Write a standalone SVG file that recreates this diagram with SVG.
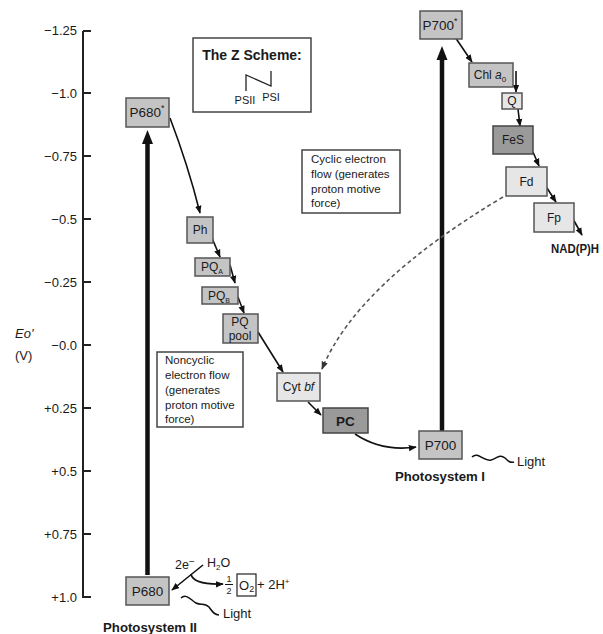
<svg xmlns="http://www.w3.org/2000/svg" width="603" height="634" viewBox="0 0 603 634">
<style>
text{font-family:"Liberation Sans",Arial,sans-serif;fill:#1a1a1a}
.tick{font-size:13px;text-anchor:end}
.lbl{font-size:12px;text-anchor:middle}
.big{font-size:13.5px;text-anchor:middle}
.note{font-size:11.5px}
.bold{font-weight:bold}
.mid{fill:#c4c4c4;stroke:#555;stroke-width:1.5}
.dark{fill:#9a9a9a;stroke:#444;stroke-width:1.5}
.light{fill:#e6e6e6;stroke:#555;stroke-width:1.5}
.box{fill:#fff;stroke:#444;stroke-width:1.5}
.ln{fill:none;stroke:#111;stroke-width:1.6;marker-end:url(#ah)}
.dash{fill:none;stroke:#555;stroke-width:1.6;stroke-dasharray:4 3;marker-end:url(#ahg)}
.thick{stroke:#111;stroke-width:4.5}
</style>
<defs>
<marker id="ah" viewBox="0 0 10 10" refX="9" refY="5" markerWidth="8" markerHeight="8" markerUnits="userSpaceOnUse" orient="auto"><path d="M0,1 L10,5 L0,9 z" fill="#111"/></marker>
<marker id="ahg" viewBox="0 0 10 10" refX="9" refY="5" markerWidth="8" markerHeight="8" markerUnits="userSpaceOnUse" orient="auto"><path d="M0,1 L10,5 L0,9 z" fill="#333"/></marker>
</defs>
<rect width="603" height="634" fill="#fff"/>

<g id="axis">
<path d="M83,31 L83,597 L91,597" fill="none" stroke="#222" stroke-width="2"/>
<g stroke="#222" stroke-width="2">
<line x1="83" y1="31" x2="91" y2="31"/><line x1="83" y1="93" x2="91" y2="93"/><line x1="83" y1="156" x2="91" y2="156"/><line x1="83" y1="219" x2="91" y2="219"/><line x1="83" y1="282" x2="91" y2="282"/><line x1="83" y1="345" x2="91" y2="345"/><line x1="83" y1="408" x2="91" y2="408"/><line x1="83" y1="471" x2="91" y2="471"/><line x1="83" y1="534" x2="91" y2="534"/>
</g>
<text class="tick" x="77" y="35">−1.25</text>
<text class="tick" x="77" y="98">−1.0</text>
<text class="tick" x="77" y="161">−0.75</text>
<text class="tick" x="77" y="224">−0.5</text>
<text class="tick" x="77" y="287">−0.25</text>
<text class="tick" x="77" y="350">−0.0</text>
<text class="tick" x="77" y="413">+0.25</text>
<text class="tick" x="77" y="476">+0.5</text>
<text class="tick" x="77" y="539">+0.75</text>
<text class="tick" x="77" y="602">+1.0</text>
<text x="15" y="338" font-size="13" font-style="italic">Eo'</text>
<text x="15" y="360" font-size="13">(V)</text>
</g>

<g id="zscheme">
<rect class="box" x="193" y="38" width="118" height="74"/>
<text x="252" y="60" font-size="14" font-weight="bold" text-anchor="middle">The Z Scheme:</text>
<path d="M246,91 L246,75 L271,86 L271,71" fill="none" stroke="#222" stroke-width="1.3"/>
<text x="245" y="104" font-size="11" text-anchor="middle">PSII</text>
<text x="271" y="101" font-size="11" text-anchor="middle">PSI</text>
</g>

<g id="cyclic-note">
<rect class="box" x="302" y="150" width="98" height="63"/>
<text class="note" x="311" y="163">Cyclic electron</text>
<text class="note" x="311" y="178">flow (generates</text>
<text class="note" x="311" y="193">proton motive</text>
<text class="note" x="311" y="207">force)</text>
</g>

<g id="noncyclic-note">
<rect class="box" x="157" y="352" width="86" height="75"/>
<text class="note" x="165" y="364">Noncyclic</text>
<text class="note" x="165" y="379">electron flow</text>
<text class="note" x="165" y="394">(generates</text>
<text class="note" x="165" y="409">proton motive</text>
<text class="note" x="165" y="423">force)</text>
</g>

<g id="connectors">
<line class="thick" x1="147.5" y1="575" x2="147.5" y2="141"/>
<polygon points="147.5,130 142,144 153,144" fill="#111"/>
<line class="thick" x1="442" y1="431" x2="442" y2="57"/>
<polygon points="442,46 436.5,60 447.5,60" fill="#111"/>
<path class="ln" d="M170,118 Q188,165 200,213"/>
<path class="ln" d="M212,238 L220,257"/>
<path class="ln" d="M230,265 L235,283"/>
<path class="ln" d="M238,297 L244,313"/>
<path class="ln" d="M258,332 L283,372"/>
<path class="ln" d="M308,402 L321,415"/>
<path class="ln" d="M355,434 Q382,452 416,447"/>
<path class="ln" d="M455,37 L472,62"/>
<path class="ln" d="M516,71 L516,92"/>
<path class="ln" d="M518,109 L520,126"/>
<path class="ln" d="M533,152 L539,166"/>
<path class="ln" d="M547,188 L556,202"/>
<path class="ln" d="M573,219 L582,235"/>
<path class="dash" d="M503,197 Q357,284 322,369"/>
<path class="ln" d="M203,565 L172,590"/>
<path class="ln" d="M191,574 Q193,585 223,584"/>
<path d="M472,457 C478,451 484,462 491,460 C497,458 500,454 505,458 C508,461 510,463 514,462" fill="none" stroke="#111" stroke-width="1.5"/>
<path d="M181,598 C186,593 191,600 196,603 C201,606 204,602 209,607 C212,611 214,615 219,615" fill="none" stroke="#111" stroke-width="1.5"/>
</g>

<g id="P680star"><rect class="mid" x="126" y="98" width="43" height="29"/><text class="big" x="147" y="117">P680<tspan font-size="9" dy="-6">*</tspan></text></g>
<g id="Ph"><rect class="mid" x="187" y="217" width="26" height="26"/><text class="lbl" x="200" y="234">Ph</text></g>
<g id="PQA"><rect class="mid" x="195" y="258" width="35" height="18"/><text class="lbl" x="212" y="271" font-size="11">PQ<tspan font-size="7" dy="3">A</tspan></text></g>
<g id="PQB"><rect class="mid" x="202" y="287" width="36" height="17"/><text class="lbl" x="219" y="300" font-size="11">PQ<tspan font-size="7" dy="3">B</tspan></text></g>
<g id="PQpool"><rect class="mid" x="223" y="314" width="35" height="29"/><text class="lbl" x="240" y="326">PQ</text><text class="lbl" x="240" y="340">pool</text></g>
<g id="Cytbf"><rect class="light" x="277" y="373" width="43" height="28"/><text class="lbl" x="298.5" y="391">Cyt <tspan font-style="italic">bf</tspan></text></g>
<g id="PC"><rect class="dark" x="323" y="408" width="45" height="25"/><text class="big" x="345.5" y="426" font-size="15" font-weight="bold">PC</text></g>
<g id="P700"><rect class="mid" x="419" y="431" width="43" height="28"/><text class="big" x="440.5" y="450">P700</text></g>
<g id="P700star"><rect class="mid" x="420" y="11" width="42" height="28"/><text class="big" x="440" y="30">P700<tspan font-size="9" dy="-6">*</tspan></text></g>
<g id="Chla0"><rect class="mid" x="469" y="63" width="44" height="24"/><text class="lbl" x="490" y="79">Chl <tspan font-style="italic">a</tspan><tspan font-size="8" dy="3">0</tspan></text></g>
<g id="Q"><rect class="light" x="502" y="93" width="20" height="16"/><text class="lbl" x="512" y="105" font-size="11">Q</text></g>
<g id="FeS"><rect class="dark" x="493" y="126" width="40" height="28"/><text class="lbl" x="513" y="144">FeS</text></g>
<g id="Fd"><rect class="light" x="506" y="167" width="41" height="29"/><text class="lbl" x="526.5" y="186">Fd</text></g>
<g id="Fp"><rect class="light" x="534" y="203" width="40" height="29"/><text class="lbl" x="554" y="222">Fp</text></g>
<g id="NADPH"><text x="551" y="253" font-size="12" font-weight="bold" textLength="48" lengthAdjust="spacingAndGlyphs">NAD(P)H</text></g>
<g id="P680"><rect class="mid" x="126" y="577" width="43" height="28"/><text class="big" x="147.5" y="596">P680</text></g>

<g id="labels">
<text x="395" y="481" font-size="13.5" font-weight="bold" textLength="90" lengthAdjust="spacingAndGlyphs">Photosystem I</text>
<text x="517" y="466" font-size="13">Light</text>
<text x="103" y="632" font-size="13.5" font-weight="bold" textLength="94" lengthAdjust="spacingAndGlyphs">Photosystem II</text>
<text x="223" y="618" font-size="13">Light</text>
<text x="175" y="569" font-size="12.5">2e<tspan font-size="10" dy="-4">−</tspan></text>
<text x="207" y="567" font-size="12.5">H<tspan font-size="8" dy="3">2</tspan><tspan dy="-3">O</tspan></text>
<text x="229" y="582" font-size="9" text-anchor="middle">1</text>
<line x1="225" y1="584.5" x2="233" y2="584.5" stroke="#111" stroke-width="1"/>
<text x="229" y="594" font-size="9" text-anchor="middle">2</text>
<rect x="237" y="574" width="19" height="22" fill="none" stroke="#222" stroke-width="1.2"/>
<text x="239" y="590" font-size="13">O<tspan font-size="9" dy="2">2</tspan></text>
<text x="257" y="589" font-size="13">+ 2H<tspan font-size="8" dy="-5">+</tspan></text>
</g>
</svg>
